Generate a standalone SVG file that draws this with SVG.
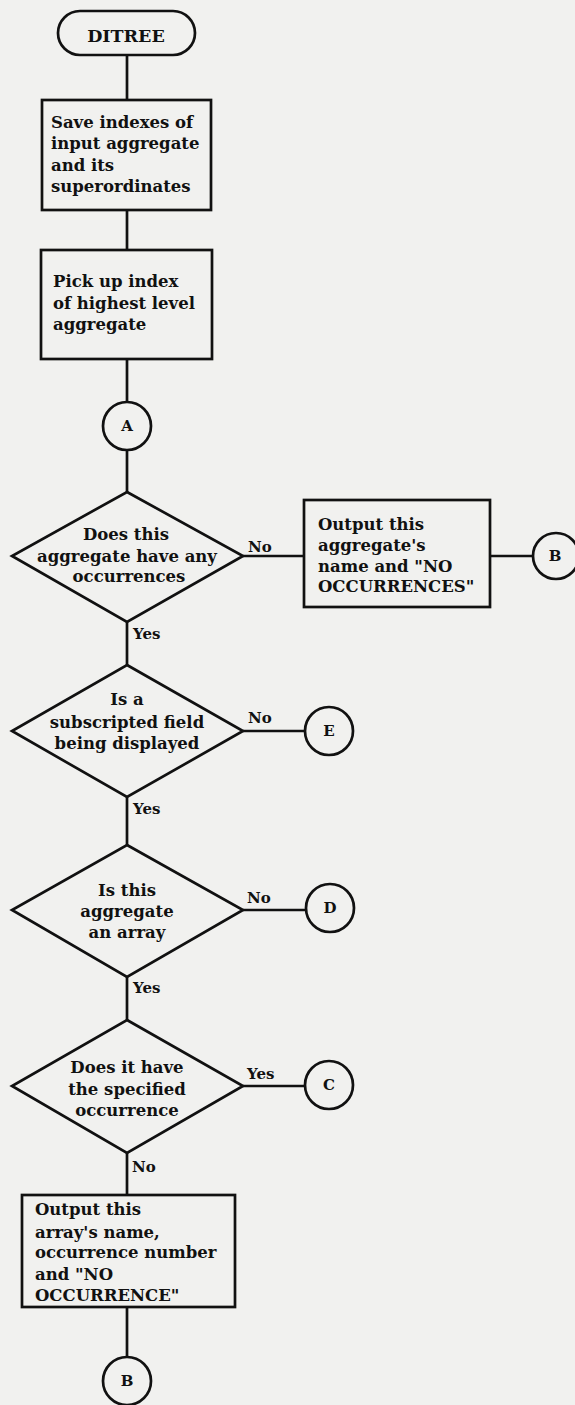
<svg xmlns="http://www.w3.org/2000/svg" width="575" height="1405" viewBox="0 0 575 1405">
<style>
.s{fill:none;stroke:#111;stroke-width:2.7}
.t{font-family:"DejaVu Serif","Liberation Serif",serif;font-weight:bold;font-size:16.5px;fill:#111}
.c{text-anchor:middle}
.l{font-family:"DejaVu Serif","Liberation Serif",serif;font-weight:bold;font-size:15px;fill:#111}
.k{font-family:"DejaVu Serif","Liberation Serif",serif;font-weight:bold;font-size:15px;fill:#111;text-anchor:middle}
</style>
<rect x="0" y="0" width="575" height="1405" fill="#f1f1ef"/>
<g id="connectors" class="s">
<line x1="127" y1="55" x2="127" y2="100"/>
<line x1="127" y1="210" x2="127" y2="250"/>
<line x1="127" y1="359" x2="127" y2="402"/>
<line x1="127" y1="450" x2="127" y2="492"/>
<line x1="243" y1="556" x2="304" y2="556"/>
<line x1="490" y1="556" x2="533" y2="556"/>
<line x1="127" y1="622" x2="127" y2="665"/>
<line x1="243" y1="731" x2="305" y2="731"/>
<line x1="127" y1="797" x2="127" y2="845"/>
<line x1="243" y1="910" x2="305" y2="910"/>
<line x1="127" y1="977" x2="127" y2="1020"/>
<line x1="243" y1="1086" x2="305" y2="1086"/>
<line x1="127" y1="1153" x2="127" y2="1195"/>
<line x1="127" y1="1307" x2="127" y2="1357"/>
</g>
<g id="labels">
<text class="l" x="248" y="552">No</text>
<text class="l" x="133" y="639">Yes</text>
<text class="l" x="248" y="723">No</text>
<text class="l" x="133" y="814">Yes</text>
<text class="l" x="247" y="903">No</text>
<text class="l" x="133" y="993">Yes</text>
<text class="l" x="247" y="1079">Yes</text>
<text class="l" x="132" y="1172">No</text>
</g>
<g id="start">
<rect class="s" x="58" y="11" width="137" height="44" rx="22"/>
<text class="t c" x="126" y="42" style="font-size:17.5px">DITREE</text>
</g>
<g id="save">
<rect class="s" x="42" y="100" width="169" height="110"/>
<text class="t" x="51" y="128">Save indexes of</text>
<text class="t" x="51" y="149">input aggregate</text>
<text class="t" x="51" y="171">and its</text>
<text class="t" x="51" y="192">superordinates</text>
</g>
<g id="pickup">
<rect class="s" x="41" y="250" width="171" height="109"/>
<text class="t" x="53" y="287">Pick up index</text>
<text class="t" x="53" y="309">of highest level</text>
<text class="t" x="53" y="330">aggregate</text>
</g>
<g id="connA">
<circle class="s" cx="127" cy="426" r="24"/>
<text class="k" x="127" y="431">A</text>
</g>
<g id="d1">
<polygon class="s" points="127,492 243,556 127,622 12,556"/>
<text class="t c" x="126" y="540">Does this</text>
<text class="t c" x="127" y="562">aggregate have any</text>
<text class="t c" x="129" y="582">occurrences</text>
</g>
<g id="out1">
<rect class="s" x="304" y="500" width="186" height="107"/>
<text class="t" x="318" y="530">Output this</text>
<text class="t" x="318" y="551">aggregate's</text>
<text class="t" x="318" y="572">name and "NO</text>
<text class="t" x="318" y="592">OCCURRENCES"</text>
</g>
<g id="connB1">
<circle class="s" cx="556" cy="556" r="23"/>
<text class="k" x="555" y="561">B</text>
</g>
<g id="d2">
<polygon class="s" points="127,665 243,731 127,797 12,731"/>
<text class="t c" x="127" y="705">Is a</text>
<text class="t c" x="127" y="728">subscripted field</text>
<text class="t c" x="127" y="749">being displayed</text>
</g>
<g id="connE">
<circle class="s" cx="329" cy="731" r="24"/>
<text class="k" x="329" y="736">E</text>
</g>
<g id="d3">
<polygon class="s" points="127,845 243,910 127,977 12,910"/>
<text class="t c" x="127" y="896">Is this</text>
<text class="t c" x="127" y="917">aggregate</text>
<text class="t c" x="127" y="938">an array</text>
</g>
<g id="connD">
<circle class="s" cx="330" cy="908" r="24"/>
<text class="k" x="330" y="913">D</text>
</g>
<g id="d4">
<polygon class="s" points="127,1020 243,1086 127,1153 12,1086"/>
<text class="t c" x="127" y="1073">Does it have</text>
<text class="t c" x="127" y="1095">the specified</text>
<text class="t c" x="127" y="1116">occurrence</text>
</g>
<g id="connC">
<circle class="s" cx="329" cy="1085" r="24"/>
<text class="k" x="329" y="1090">C</text>
</g>
<g id="out2">
<rect class="s" x="22" y="1195" width="213" height="112"/>
<text class="t" x="35" y="1215">Output this</text>
<text class="t" x="35" y="1238">array's name,</text>
<text class="t" x="35" y="1258">occurrence number</text>
<text class="t" x="35" y="1280">and "NO</text>
<text class="t" x="35" y="1301">OCCURRENCE"</text>
</g>
<g id="connB2">
<circle class="s" cx="127" cy="1381" r="24"/>
<text class="k" x="127" y="1386">B</text>
</g>
</svg>
